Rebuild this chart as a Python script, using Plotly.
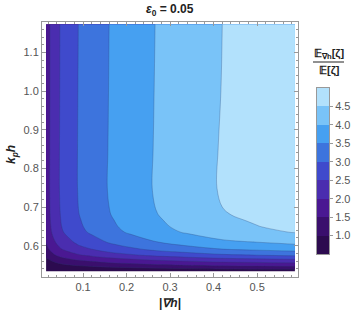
import plotly.graph_objects as go

# |grad h| sample positions (columns)
grad_h = [0.015, 0.025, 0.035, 0.05, 0.07, 0.09, 0.12, 0.16, 0.21, 0.27, 0.34, 0.42, 0.5, 0.587]
# k_p h sample positions (rows)
kph = [0.533, 0.54, 0.55, 0.56, 0.575, 0.59, 0.6, 0.61, 0.635, 0.65, 0.665, 0.68, 0.7, 0.75, 0.85, 1.0, 1.173]

# ratio E_grad[zeta]/E[zeta], values estimated from the reference contours (rows follow kph)
ratio = [
    [0.23, 0.26, 0.30, 0.33, 0.36, 0.39, 0.42, 0.46, 0.49, 0.52, 0.55, 0.59, 0.60, 0.62],
    [0.39, 0.46, 0.51, 0.58, 0.63, 0.68, 0.72, 0.79, 0.84, 0.90, 0.96, 1.01, 1.04, 1.07],
    [0.63, 0.73, 0.82, 0.92, 1.00, 1.08, 1.16, 1.26, 1.35, 1.45, 1.53, 1.62, 1.66, 1.71],
    [0.82, 0.95, 1.07, 1.20, 1.31, 1.41, 1.51, 1.65, 1.76, 1.89, 2.00, 2.12, 2.17, 2.23],
    [1.13, 1.31, 1.47, 1.65, 1.80, 1.94, 2.08, 2.26, 2.42, 2.59, 2.74, 2.90, 2.98, 3.06],
    [1.35, 1.56, 1.76, 1.97, 2.15, 2.32, 2.48, 2.70, 2.89, 3.10, 3.27, 3.47, 3.56, 3.66],
    [1.44, 1.67, 1.88, 2.11, 2.30, 2.48, 2.66, 2.89, 3.09, 3.32, 3.51, 3.71, 3.81, 3.92],
    [1.52, 1.77, 1.98, 2.23, 2.43, 2.62, 2.80, 3.05, 3.26, 3.50, 3.70, 3.92, 4.02, 4.13],
    [1.67, 1.93, 2.17, 2.44, 2.66, 2.87, 3.07, 3.33, 3.57, 3.83, 4.05, 4.28, 4.40, 4.52],
    [1.70, 1.97, 2.22, 2.49, 2.71, 2.93, 3.13, 3.40, 3.65, 3.91, 4.13, 4.37, 4.49, 4.62],
    [1.72, 2.00, 2.24, 2.52, 2.74, 2.96, 3.17, 3.44, 3.69, 3.95, 4.18, 4.42, 4.54, 4.67],
    [1.74, 2.02, 2.26, 2.54, 2.77, 2.99, 3.20, 3.48, 3.72, 3.99, 4.22, 4.47, 4.59, 4.72],
    [1.75, 2.03, 2.28, 2.56, 2.79, 3.01, 3.22, 3.50, 3.75, 4.02, 4.25, 4.50, 4.62, 4.75],
    [1.76, 2.05, 2.30, 2.58, 2.81, 3.03, 3.25, 3.53, 3.78, 4.05, 4.28, 4.54, 4.66, 4.79],
    [1.76, 2.04, 2.29, 2.58, 2.81, 3.03, 3.24, 3.52, 3.77, 4.04, 4.28, 4.53, 4.65, 4.78],
    [1.75, 2.03, 2.28, 2.57, 2.80, 3.02, 3.23, 3.51, 3.76, 4.03, 4.26, 4.51, 4.63, 4.76],
    [1.75, 2.03, 2.28, 2.56, 2.79, 3.01, 3.22, 3.50, 3.75, 4.02, 4.25, 4.50, 4.62, 4.75],
]

# contour levels / legend bands
level_start, level_end, level_step = 1.0, 4.5, 0.5
legend_edges = [0.5, 1.0, 1.5, 2.0, 2.5, 3.0, 3.5, 4.0, 4.5, 5.0]
band_colors = ["#2c0b4f", "#3a0f6d", "#4a1892", "#4a2daf", "#3f4acc",
               "#3d74dd", "#46a0f1", "#79c3f8", "#b2e1fc"]
legend_ticks = [1.0, 1.5, 2.0, 2.5, 3.0, 3.5, 4.0, 4.5]

n = len(band_colors) - 1
cscale = [[i / n, c] for i, c in enumerate(band_colors)]
band_mid = [[(a + b) / 2] for a, b in zip(legend_edges[:-1], legend_edges[1:])]
cmin, cmax = level_start - level_step / 2, level_end + level_step / 2

W, H = 359, 318
L, R, T, B = 42, 8, 22, 318 - 277
pw, ph = W - L - R, H - T - B
px = lambda X: (X - L) / pw          # window pixel x -> paper
py = lambda Y: (H - B - Y) / ph      # window pixel y -> paper

fig = go.Figure()
fig.add_trace(go.Contour(
    x=grad_h, y=kph, z=ratio,
    colorscale=cscale, showscale=False,
    contours=dict(start=level_start, end=level_end, size=level_step, coloring="fill"),
    line=dict(color="rgba(40,60,110,0.40)", width=0.7, smoothing=1.0),
    xaxis="x", yaxis="y",
))
# bar legend drawn as a one-column heatmap on its own axes
fig.add_trace(go.Heatmap(
    x=[0, 1], y=legend_edges, z=band_mid,
    colorscale=cscale, zmin=cmin, zmax=cmax, showscale=False,
    xaxis="x2", yaxis="y2", hoverinfo="skip",
))

tickfont = dict(family="Liberation Sans, Arial", size=11, color="#555")
axis_common = dict(
    showline=True, linecolor="#999", linewidth=1, mirror="ticks",
    ticks="inside", ticklen=4, tickcolor="#999", tickwidth=1,
    showgrid=False, zeroline=False, tickfont=tickfont,
)
minor = dict(ticks="inside", ticklen=2, tickcolor="#999", dtick=0.02, tick0=0)

fig.update_layout(
    xaxis=dict(domain=[0, px(298)], range=[0.0057, 0.594],
               tickvals=[0.1, 0.2, 0.3, 0.4, 0.5],
               ticktext=["0.1", "0.2", "0.3", "0.4", "0.5"], minor=minor, **axis_common),
    yaxis=dict(domain=[0, 1], range=[0.519, 1.179],
               tickvals=[0.6, 0.7, 0.8, 0.9, 1.0, 1.1],
               ticktext=["0.6", "0.7", "0.8", "0.9", "1.0", "1.1"], minor=minor, **axis_common),
    xaxis2=dict(domain=[px(317), px(329)], range=[0, 1], anchor="y2",
                showticklabels=False, ticks="", showgrid=False, zeroline=False,
                showline=True, linecolor="#999", linewidth=1, mirror=True),
    yaxis2=dict(domain=[py(254), py(88)], range=[0.5, 5.0], anchor="x2", side="right",
                tickvals=legend_ticks, ticktext=[f"{v:.1f}" for v in legend_ticks],
                ticks="outside", ticklen=3, tickcolor="#999", showgrid=False, zeroline=False,
                showline=True, linecolor="#999", linewidth=1, mirror=True, tickfont=tickfont),
)

fnt = dict(family="Liberation Sans, Arial", color="#222")
ann = [
    dict(text="<b><i>ε</i><sub>0</sub> = 0.05</b>", x=px(170), y=py(10), font=dict(size=12, **fnt)),
    dict(text="<b>|<i>∇h</i>|</b>", x=px(170), y=py(303), font=dict(size=12, **fnt)),
    dict(text="<b><i>k<sub>p</sub>h</i></b>", x=px(12), y=py(155), textangle=-90,
         font=dict(size=12, **fnt)),
    dict(text="<b>𝔼<sub>∇h</sub>[ζ]</b>", x=px(329), y=py(54), font=dict(size=11, **fnt)),
    dict(text="<b>𝔼[ζ]</b>", x=px(329), y=py(70), font=dict(size=11, **fnt)),
]
for a in ann:
    a.update(xref="paper", yref="paper", showarrow=False, xanchor="center", yanchor="middle")

fig.update_layout(
    width=W, height=H, margin=dict(l=L, r=R, t=T, b=B),
    paper_bgcolor="white", plot_bgcolor="white",
    annotations=ann,
    shapes=[dict(type="line", xref="paper", yref="paper",
                 x0=px(313), x1=px(344), y0=py(62), y1=py(62),
                 line=dict(color="#222", width=1))],
)

# remove the browser's default 8px body margin so the figure sits at the window origin
fig.write_html("out.html", config={"displayModeBar": False},
               post_script="document.body.style.margin='0px';")
